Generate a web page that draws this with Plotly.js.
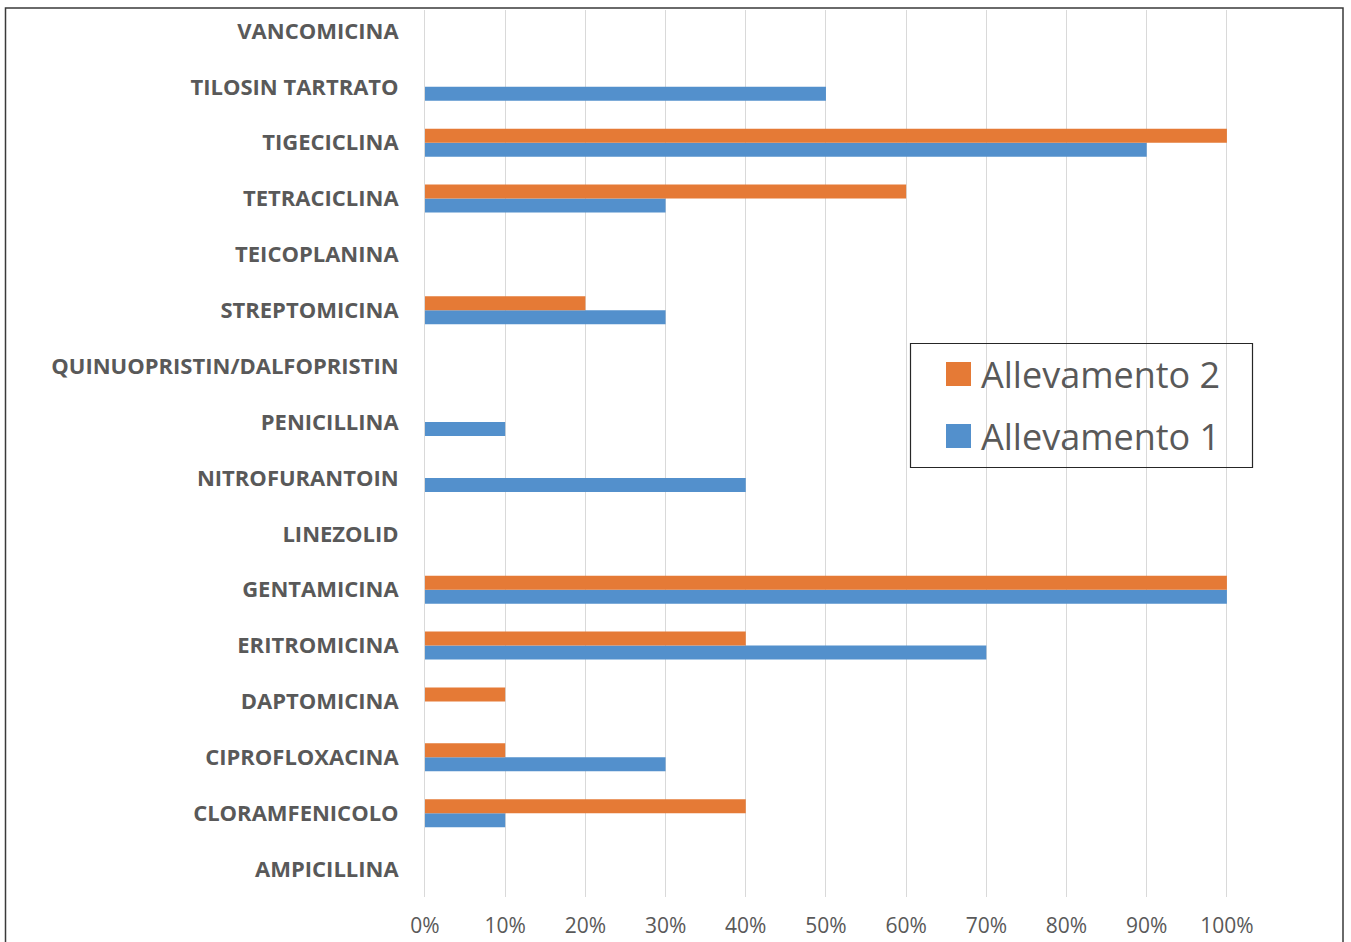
<!DOCTYPE html>
<html>
<head>
<meta charset="utf-8">
<script src="https://cdn.plot.ly/plotly-3.0.1.min.js"></script>
<style>
  html, body { margin: 0; padding: 0; background: #ffffff; }
  #chart { width: 1351px; height: 942px; }
</style>
</head>
<body>
<div id="chart"></div>
<script>
// Antibiotics, bottom to top
const antibiotici = [
  'AMPICILLINA', 'CLORAMFENICOLO', 'CIPROFLOXACINA', 'DAPTOMICINA',
  'ERITROMICINA', 'GENTAMICINA', 'LINEZOLID', 'NITROFURANTOIN',
  'PENICILLINA', 'QUINUOPRISTIN/DALFOPRISTIN', 'STREPTOMICINA',
  'TEICOPLANINA', 'TETRACICLINA', 'TIGECICLINA', 'TILOSIN TARTRATO',
  'VANCOMICINA'
];

// Percentage of resistant isolates per farm
const allevamento1 = [0, 10, 30, 0, 70, 100, 0, 40, 10, 0, 30, 0, 30, 90, 50, 0];
const allevamento2 = [0, 40, 10, 10, 40, 100, 0, 0, 0, 0, 20, 0, 60, 100, 0, 0];

const nome1 = 'Allevamento 1';
const nome2 = 'Allevamento 2';

const percentTicks = [0, 10, 20, 30, 40, 50, 60, 70, 80, 90, 100];
const percentLabels = ['0%', '10%', '20%', '30%', '40%', '50%', '60%', '70%', '80%', '90%', '100%'];

const colore1 = '#5390CC';
const colore2 = '#E57A36';
const testo = '#595959';

// Page geometry (pixels)
const W = 1351, H = 942;
const M = { l: 425, r: 84, t: 10, b: 45 };
const plotW = W - M.l - M.r;
const plotH = H - M.t - M.b;
const px = x => (x - M.l) / plotW;
const py = y => (H - M.b - y) / plotH;

const traces = [
  {
    type: 'bar', orientation: 'h', name: nome1,
    y: antibiotici, x: allevamento1,
    marker: { color: colore1 }, hoverinfo: 'x+y+name'
  },
  {
    type: 'bar', orientation: 'h', name: nome2,
    y: antibiotici, x: allevamento2,
    marker: { color: colore2 }, hoverinfo: 'x+y+name'
  }
];

// Legend box drawn by hand so the swatches can be large
const legendItems = [
  { name: nome2, color: colore2, cy: 374 },
  { name: nome1, color: colore1, cy: 436 }
];

const shapes = [
  // outer frame
  {
    type: 'rect', xref: 'paper', yref: 'paper',
    x0: px(5.5), x1: px(1343), y0: py(8), y1: py(960),
    line: { color: '#3a3a3a', width: 1.5 }, fillcolor: 'rgba(0,0,0,0)'
  },
  // legend border
  {
    type: 'rect', xref: 'paper', yref: 'paper',
    x0: px(910.5), x1: px(1252.5), y0: py(343.5), y1: py(467.5),
    line: { color: '#262626', width: 1.2 }, fillcolor: 'rgba(0,0,0,0)'
  }
];
const annotations = [];
legendItems.forEach(it => {
  shapes.push({
    type: 'rect', xref: 'paper', yref: 'paper',
    x0: px(946), x1: px(971), y0: py(it.cy - 12), y1: py(it.cy + 12),
    line: { width: 0 }, fillcolor: it.color
  });
  annotations.push({
    xref: 'paper', yref: 'paper', x: px(979), y: py(it.cy),
    xanchor: 'left', yanchor: 'middle', showarrow: false,
    text: it.name,
    font: { family: 'Open Sans, sans-serif', size: 36, color: testo }
  });
});

const layout = {
  width: W, height: H,
  margin: M,
  paper_bgcolor: '#ffffff', plot_bgcolor: '#ffffff',
  barmode: 'group', bargap: 0.5, bargroupgap: 0,
  showlegend: false,
  xaxis: {
    range: [0, 105], tickmode: 'array', tickvals: percentTicks, ticktext: percentLabels,
    showgrid: true, gridcolor: '#d9d9d9', gridwidth: 1,
    zeroline: false, showline: false, ticks: '',
    ticklabelstandoff: 14,
    tickfont: { family: 'Open Sans, sans-serif', size: 21, color: testo },
    fixedrange: true
  },
  yaxis: {
    type: 'category', categoryorder: 'array', categoryarray: antibiotici,
    range: [-0.5, 15.375],
    showgrid: false, zeroline: false,
    showline: true, linecolor: '#d9d9d9', linewidth: 1,
    ticks: '', ticklabelstandoff: 21,
    tickfont: { family: 'Open Sans, sans-serif', size: 22, color: testo, weight: 'bold' },
    fixedrange: true
  },
  shapes: shapes,
  annotations: annotations
};

Plotly.newPlot('chart', traces, layout, { displayModeBar: false, staticPlot: true });
</script>
</body>
</html>
